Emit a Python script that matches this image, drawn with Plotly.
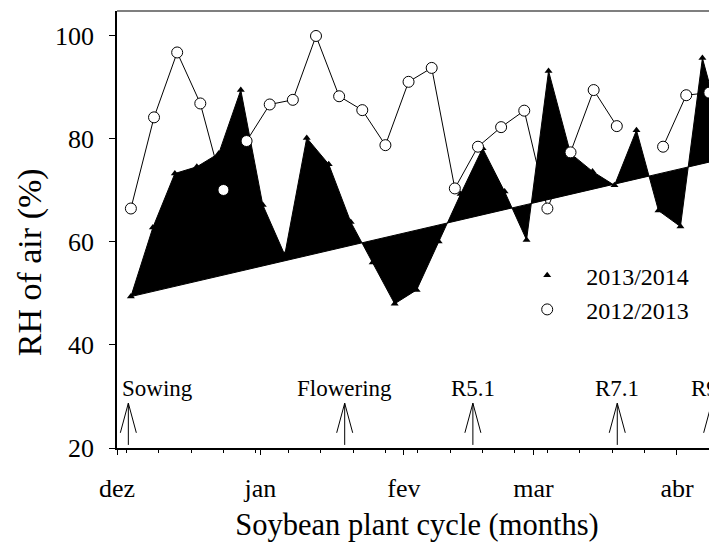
import plotly.graph_objects as go

# ---- data (days counted from 1 December) ----
month_ticks = [0, 31, 62, 90, 121]
month_labels = ["dez", "jan", "fev", "mar", "abr"]

days_2013_14 = [3, 7.75, 12.5, 17.25, 22, 26.75, 31.5, 36.25, 41, 45.75, 50.5, 55.25,
                60, 64.75, 69.5, 74.25, 79, 83.75, 88.5, 93.25, 98, 102.75, 107.5,
                112.25, 117, 121.75, 126.5, 131.25]
rh_2013_14 = [49.4, 62.8, 73.3, 74.6, 77.2, 89.5, 67.2, 57.5, 80.2, 75.1, 63.9, 56.0,
              48.0, 50.7, 60.1, 69.3, 78.2, 69.8, 60.4, 93.2, 77.2, 73.7, 71.0,
              81.7, 66.1, 63.0, 95.7, 80.0]

days_2012_13 = [3, 8, 13, 18, 23, 28, 33, 38, 43, 48, 53, 58, 63, 68, 73, 78, 83, 88,
                93, 98, 103, 108, 113, 118, 123, 128, 133]
rh_2012_13 = [66.5, 84.2, 96.8, 86.9, 70.1, 79.6, 86.7, 87.6, 100.0, 88.3, 85.6, 78.8,
              91.1, 93.8, 70.4, 78.5, 82.3, 85.5, 66.5, 77.4, 89.5, 82.5, None, 78.5,
              88.5, 89.0, 90.0]

trend_days = [3, 131.25]
trend_rh = [49.4, 76.2]

stage_names = ["Sowing", "Flowering", "R5.1", "R7.1", "R9"]
stage_days = [2.45, 49.2, 76.9, 108.1, 128.5]

FONT = "Times New Roman, Liberation Serif, serif"

fig = go.Figure()

# trend line (base of the fill)
fig.add_trace(go.Scatter(x=trend_days, y=trend_rh, mode="lines",
                         line=dict(color="black", width=1), showlegend=False,
                         hoverinfo="skip"))
# 2013/2014 filled against trend line
fig.add_trace(go.Scatter(x=days_2013_14, y=rh_2013_14, mode="lines+markers",
                         fill="tonexty", fillcolor="black",
                         line=dict(color="black", width=1),
                         marker=dict(symbol="triangle-up", size=7, color="black"),
                         showlegend=False))
# 2012/2013 open circles
fig.add_trace(go.Scatter(x=days_2012_13, y=rh_2012_13, mode="lines+markers",
                         line=dict(color="black", width=1),
                         marker=dict(symbol="circle", size=11, color="white",
                                     line=dict(color="black", width=1)),
                         showlegend=False))
# legend entries
fig.add_trace(go.Scatter(x=[None], y=[None], mode="markers", name="2013/2014",
                         marker=dict(symbol="triangle-up", size=7, color="black")))
fig.add_trace(go.Scatter(x=[None], y=[None], mode="markers", name="2012/2013",
                         marker=dict(symbol="circle", size=11, color="white",
                                     line=dict(color="black", width=1))))

shapes = []
annotations = []
dx = 1.73  # arrow wing half width (days)
for name, d in zip(stage_names, stage_days):
    shapes.append(dict(type="line", xref="x", yref="y", x0=d, x1=d, y0=20.6, y1=28.7,
                       line=dict(color="black", width=1)))
    shapes.append(dict(type="line", xref="x", yref="y", x0=d - dx, x1=d, y0=22.95, y1=28.7,
                       line=dict(color="black", width=1)))
    shapes.append(dict(type="line", xref="x", yref="y", x0=d + dx, x1=d, y0=22.95, y1=28.7,
                       line=dict(color="black", width=1)))
    if name == "Sowing":
        annotations.append(dict(x=0, y=31.6, xref="x", yref="y", text=name,
                                showarrow=False, xanchor="left", yanchor="middle",
                                xshift=3, font=dict(family=FONT, size=23, color="black")))
    elif name == "R9":
        annotations.append(dict(x=d, y=31.6, xref="x", yref="y", text=name,
                                showarrow=False, xanchor="center", yanchor="middle",
                                xshift=-7, font=dict(family=FONT, size=23, color="black")))
    else:
        annotations.append(dict(x=d, y=31.6, xref="x", yref="y", text=name,
                                showarrow=False, xanchor="center", yanchor="middle",
                                font=dict(family=FONT, size=23, color="black")))

# y-axis title (placed slightly below centre as in the original)
annotations.append(dict(x=-0.145, y=0.425, xref="paper", yref="paper",
                        text="RH of air (%)", textangle=-90, showarrow=False,
                        xanchor="center", yanchor="middle",
                        font=dict(family=FONT, size=34, color="black")))

# top border
shapes.append(dict(type="line", xref="paper", yref="paper", x0=0, x1=1, y0=1, y1=1,
                   line=dict(color="#555555", width=1.5)))

fig.update_layout(
    width=709, height=543,
    margin=dict(l=109, r=0, t=3, b=103),
    plot_bgcolor="white", paper_bgcolor="white",
    font=dict(family=FONT, color="black"),
    shapes=shapes, annotations=annotations,
    legend=dict(x=0.652, y=0.446, xanchor="left", yanchor="top",
                font=dict(family=FONT, size=24), itemwidth=68,
                traceorder="normal",
                bgcolor="rgba(0,0,0,0)", tracegroupgap=0),
    xaxis=dict(range=[0, 129.65], tickmode="array", tickvals=month_ticks,
               ticktext=month_labels, ticks="outside", ticklen=5, tickcolor="black",
               showline=True, linecolor="black", linewidth=1.5, showgrid=False,
               zeroline=False, tickfont=dict(family=FONT, size=26),
               ticklabelstandoff=11,
               minor=dict(tick0=2, dtick=7, ticks="outside", ticklen=3,
                          tickcolor="black", showgrid=False),
               title=dict(text="Soybean plant cycle (months)",
                          font=dict(family=FONT, size=30.5), standoff=12)),
    yaxis=dict(range=[20, 104.85], tickvals=[20, 40, 60, 80, 100], ticks="outside",
               ticklen=6, tickcolor="black", showline=True, linecolor="black",
               linewidth=1.5, showgrid=False, zeroline=False,
               tickfont=dict(family=FONT, size=26), ticklabelstandoff=10),
)

fig.write_html("out.html")
